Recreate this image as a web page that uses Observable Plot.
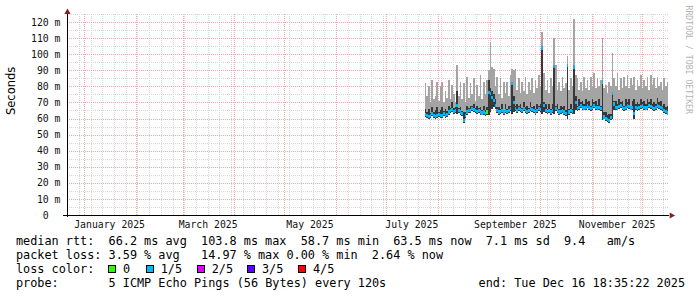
<!DOCTYPE html>
<html><head><meta charset="utf-8">
<script src="https://cdn.jsdelivr.net/npm/d3@7"></script>
<script src="https://cdn.jsdelivr.net/npm/@observablehq/plot@0.6"></script>
<style>
html,body{margin:0;padding:0;background:#fff;}
#wrap{position:relative;width:697px;height:297px;overflow:hidden;background:#fff;}
#wrap svg{position:absolute;left:0;top:0;}
.tok{position:absolute;font-family:"DejaVu Sans Mono",monospace;font-size:11.83px;line-height:14px;white-space:pre;color:#000;}
.box{position:absolute;width:6px;height:6px;border:1px solid #000;}
</style></head><body><div id="wrap"></div>
<script>
// ---- data (one value per day, starting at startDate) ----
const startDate = "2025-07-24";
const medianMs = [
  62.5,62.0,61.5,62.0,63.0,62.0,61.5,62.0,62.5,61.8,
  62.0,63.0,62.0,62.5,64.0,65.0,65.5,64.5,65.0,68.0,
  65.0,64.0,63.0,58.7,62.0,64.0,65.0,65.0,66.0,65.5,
  65.0,64.5,65.0,64.0,63.5,64.0,63.0,64.0,76.0,75.5,
  73.0,71.0,68.0,65.0,64.0,64.5,65.0,64.0,65.0,64.5,
  65.0,66.0,82.0,70.0,66.0,65.0,66.0,65.5,65.0,66.0,
  65.0,64.5,65.0,66.0,65.5,65.0,64.0,65.0,66.0,65.5,
  103.8,68.0,65.0,64.5,65.0,64.0,65.0,92.5,66.0,65.0,
  64.0,64.5,65.0,64.0,63.0,93.0,64.0,65.0,64.5,92.0,
  70.0,66.0,67.0,68.0,67.0,66.5,67.0,68.0,67.0,66.0,
  67.0,68.0,67.0,66.5,67.0,66.0,82.7,61.0,60.0,59.5,
  59.0,60.5,75.5,69.0,67.0,66.5,67.5,68.0,67.0,66.0,
  67.0,68.0,67.5,66.5,67.0,63.0,67.0,66.0,67.0,67.5,
  68.0,67.0,66.5,67.0,68.0,67.5,67.0,66.0,67.0,68.0,
  67.5,67.0,66.0,65.0,64.5,63.5
];
const minMs = [
  61,60.5,60,60.5,61.5,60.5,60,60.5,61,60.5,
  60.5,61.5,60.5,61,62.5,63.5,64,63,63.5,63,
  63.5,62.5,61.5,57.5,60.5,62.5,63.5,63.5,64.5,64,
  63.5,63,63.5,62.5,62,62.5,61.5,62.5,62,64,
  66,67,66,63.5,62.5,63,63.5,62.5,63.5,63,
  63.5,64.5,63,64,64.5,63.5,64.5,64,63.5,64.5,
  63.5,63,63.5,64.5,64,63.5,62.5,63.5,64.5,64,
  63,64,63.5,63,63.5,62.5,63.5,63,64.5,63.5,
  62.5,63,63.5,62.5,61.5,60,62.5,63.5,63,63,
  65,64.5,65.5,66.5,65.5,65,65.5,66.5,65.5,64.5,
  65.5,66.5,65.5,65,65.5,64.5,59,59.5,58.5,58,
  57.5,59,60,65,65.5,65,66,66.5,65.5,64.5,
  65.5,66.5,66,65,65.5,60,65.5,64.5,65.5,66,
  66.5,65.5,65,65.5,66.5,66,65.5,64.5,65.5,66.5,
  66,65.5,64.5,63.5,63,62
];
const innerTopMs = [
  66,64,66,63.5,67,64,65,67,64,65,
  67,64.5,66,64.5,68,66.5,70,66.5,67,77,
  66.5,67,64.5,64,64,68,66.5,68,68,69,
  66.5,68,66.5,67,65.5,68,65,67,84,79,
  77,75,72,67,67,66,69,65.5,69,66,
  68,68,83,74,68,69,67.5,69,66.5,70,
  67,68,66.5,70,67,68,66,69,68,69,
  104.5,70,69,66,69,66,69,93,68,69,
  66,68,67,68,65,94,66,69,66,92.5,
  74,68,72,70,71,69,72,70,71,68,
  72,70,71,68.5,72,68,83.5,64,64,62,
  63,63,76.5,71,71,69,72,70,71,68,
  72,70,72,68,71,72,69,70,69,72,
  70,71,69,72,70,72,69,70,69,73,
  70,71,68,69,67,68
];
const outerTopMs = [
  82,74,80,70,84,72,74,83,71,80,
  83,70,77,73,84,72,81,75,70,93.5,
  74,83,72,82,70,86,73,82,75,85,
  71,81,74,87,72,83,75,84,90,107.5,
  92,91,80,86,75,85,73,83,76,83,
  74,87,91,90,91,78,85,76,83,77,
  86,75,83,78,85,76,84,79,87,80,
  114,88,78,84,76,85,80,110,93,78,
  83,77,86,79,82,99,78,85,80,122,
  87,85,78,83,77,86,79,84,78,86,
  80,88,79,85,80,84,110,79,81,76,
  83,80,101,85,80,88,78,85,79,86,
  80,87,79,85,81,86,78,84,80,87,
  79,84,80,86,78,87,81,85,79,86,
  80,83,78,85,80,83
];
const zeroLossDates = ["2025-08-30"];
const lossLabels = ["0", "1/5", "2/5", "3/5", "4/5"];
const lossColors = ["#26ff00", "#00b8ff", "#dd00ff", "#5e00ff", "#ff0000"];
const yTicks = [0,10,20,30,40,50,60,70,80,90,100,110,120];
const yMinorTicks = [5,15,25,35,45,55,65,75,85,95,105,115,125];
const xLabelDates = ["2025-01-16","2025-03-16","2025-05-16","2025-07-16","2025-09-16","2025-11-16"];
const rangeStart = "2024-12-21T18:35:22Z";
const rangeEnd = "2025-12-16T18:35:22Z";
const rttStats = ["median rtt:", "66.2 ms avg", "103.8 ms max", "58.7 ms min", "63.5 ms now", "7.1 ms sd", "9.4", "am/s"];
const lossStats = ["packet loss:", "3.59 % avg", "14.97 % max", "0.00 % min", "2.64 % now"];
const probeTexts = ["probe:", "5 ICMP Echo Pings (56 Bytes) every 120s", "end: Tue Dec 16 18:35:22 2025"];

// ---- checks ----
[minMs, innerTopMs, outerTopMs].forEach((a, k) => {
  if (a.length !== medianMs.length) throw new Error("length mismatch " + k + ": " + a.length + " vs " + medianMs.length);
});

const DAY = 864e5;
const s0 = new Date(startDate + "T00:00:00Z");
const fmtDay = d3.utcFormat("%Y-%m-%d");
const data = medianMs.map((m, i) => {
  const d0 = new Date(+s0 + i * DAY);
  return {d0, d1: new Date(+d0 + DAY), med: m, lo: minMs[i], inner: innerTopMs[i], outer: outerTopMs[i],
          color: zeroLossDates.includes(fmtDay(d0)) ? lossColors[0] : lossColors[1]};
});
const t0 = new Date(rangeStart), t1 = new Date(rangeEnd);
const weekly = d3.utcSunday.range(t0, t1);
const monthly = d3.utcMonth.range(t0, t1);
const labelDates = xLabelDates.map(s => new Date(s + "T00:00:00Z"));
const MONO = "DejaVu Sans Mono";
const grid = {strokeDasharray: "1,1", shapeRendering: "crispEdges", strokeWidth: 1};

const chart = Plot.plot({
  width: 697, height: 232,
  marginLeft: 67, marginRight: 29, marginTop: 14, marginBottom: 17,
  style: {background: "transparent", color: "#111", overflow: "visible"},
  x: {type: "utc", domain: [t0, t1]},
  y: {domain: [0, 125]},
  marks: [
    Plot.ruleX(weekly, {...grid, stroke: "#d6d6d6"}),
    Plot.ruleY(yMinorTicks, {...grid, stroke: "#d6d6d6"}),
    Plot.ruleX(monthly, {...grid, stroke: "#f0a8a8"}),
    Plot.ruleY(yTicks.filter(v => v > 0), {...grid, stroke: "#f0a8a8"}),
    Plot.rect(data, {x1: "d0", x2: "d1", y1: "lo", y2: "outer", fill: "#a4a4a4", clip: true, shapeRendering: "crispEdges"}),
    Plot.rect(data, {x1: "d0", x2: "d1", y1: "lo", y2: "inner", fill: "#383838", clip: true, shapeRendering: "crispEdges"}),
    Plot.rect(data, {x1: "d0", x2: "d1", y1: d => d.med - 1, y2: d => d.med + 1, fill: "color", clip: true, shapeRendering: "crispEdges"}),
    Plot.ruleX([t0], {stroke: "#000", insetTop: -1, insetBottom: -2, shapeRendering: "crispEdges"}),
    Plot.ruleY([0], {stroke: "#000", insetLeft: -4, insetRight: -1, shapeRendering: "crispEdges"}),
    Plot.dot([t0], {x: d => d, y: () => 125, dy: -2.4, symbol: "triangle", r: 2.3, fill: "#8b1c1c", stroke: null}),
    Plot.dot([t1], {x: d => d, y: () => 0, dx: 3, symbol: "triangle", rotate: 90, r: 2.3, fill: "#8b1c1c", stroke: null}),
    Plot.axisY({ticks: yTicks, tickSize: 0, tickPadding: 7, fontFamily: MONO, fontSize: 9.8,
      tickFormat: v => v === 0 ? "0\u00a0\u00a0" : v + " m", label: null}),
    Plot.axisX({ticks: labelDates, tickSize: 0, tickPadding: 6, fontFamily: MONO, fontSize: 9.8,
      tickFormat: d3.utcFormat("%B %Y"), label: null}),
    Plot.text(["Seconds"], {frameAnchor: "left", dx: -56, rotate: -90, fontFamily: "DejaVu Sans", fontSize: 11.5, fill: "#000"}),
    Plot.text(["RRDTOOL / TOBI OETIKER"], {frameAnchor: "top-right", dx: 17, dy: -9, rotate: 90, textAnchor: "start",
      lineAnchor: "bottom", fill: "#b4b4b4", fontFamily: MONO, fontSize: 8.2})
  ]
});
const wrap = document.getElementById("wrap");
wrap.append(chart);

// ---- legend (HTML text below the plot) ----
const CH = 7.117, LX = 16;
function tok(text, left, baseline) {
  const s = document.createElement("span");
  s.className = "tok"; s.textContent = text;
  s.style.left = left + "px"; s.style.top = (baseline - 11.1) + "px";
  wrap.append(s);
}
const rttCols = [0, 13, 26, 40, 53, 66, 77, 83];
rttStats.forEach((t, i) => tok(t, LX + rttCols[i] * CH, 245.3));
const lossCols = [0, 13, 26, 38, 50];
lossStats.forEach((t, i) => tok(t, LX + lossCols[i] * CH, 259.2));
tok("loss color:", LX, 273.1);
const boxX = [108, 145.7, 196.7, 247, 298];
lossLabels.forEach((t, i) => {
  const b = document.createElement("div");
  b.className = "box"; b.style.left = boxX[i] + "px"; b.style.top = "265px"; b.style.background = lossColors[i];
  wrap.append(b);
  tok(t, boxX[i] + 15, 273.1);
});
const probeCols = [0, 13, 65];
probeTexts.forEach((t, i) => tok(t, LX + probeCols[i] * CH, 287.0));
</script>
</body></html>
